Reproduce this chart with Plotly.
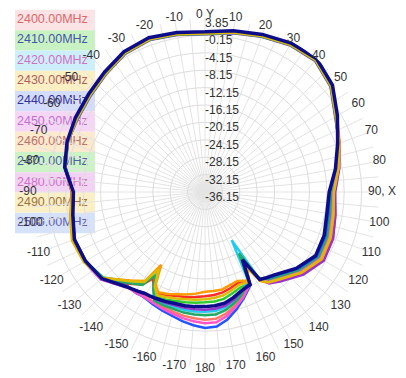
import plotly.graph_objects as go

THETA = [0, 10, 20, 30, 40, 50, 60, 70, 80, 90, 100, 110, 120, 130, 140, 145, 148, 151, 154,
         160, 165, 170, 175, 180, 185, 190, 195, 200, 205, 208, 211, 214, 220, 230, 240, 250,
         260, 270, 280, 290, 300, 310, 320, 330, 340, 350, 360]

FREQS = ["2400.00MHz", "2410.00MHz", "2420.00MHz", "2430.00MHz", "2440.00MHz", "2450.00MHz",
         "2460.00MHz", "2470.00MHz", "2480.00MHz", "2490.00MHz", "2500.00MHz"]

g2400 = [0.4, 1.2, 2.1, 3.1, 3.5, 1.8, -1.3, -3.4, -5.2, -6.8, -6.5, -5.7, -5.6, -7.8, -10.5, -11.4, -12.2, -16.5, -13.0,
         -13.9, -13.3, -12.7, -12.4, -12.2, -11.9, -11.6, -11.4, -10.9, -10.4, -11.0, -13.0, -10.5, -8.6, -5.5, -4.2, -3.9,
         -5.1, -5.8, -3.5, -2.6, -2.1, -1.5, -0.5, 0.8, 1.3, 0.8, 0.4]
g2410 = [0.3, 1.1, 2.0, 3.0, 3.4, 1.6, -1.4, -3.5, -5.3, -7.0, -6.9, -6.0, -5.8, -8.0, -10.6, -11.5, -12.6, -17.5, -12.8,
         -12.7, -12.0, -11.2, -10.9, -10.8, -10.6, -10.4, -10.2, -9.8, -9.5, -11.5, -14.5, -11.0, -9.3, -5.6, -4.3, -4.0,
         -5.0, -5.7, -3.4, -2.6, -2.2, -1.6, -0.6, 0.7, 1.2, 0.7, 0.3]
g2420 = [0.5, 1.3, 2.2, 3.2, 3.6, 1.9, -1.2, -3.4, -5.2, -6.9, -6.9, -6.2, -6.0, -8.0, -10.6, -11.4, -13.0, -23.5, -13.5,
         -11.4, -10.2, -9.2, -8.7, -8.6, -8.6, -8.6, -8.8, -8.8, -8.8, -11.8, -15.0, -11.2, -9.2, -5.5, -4.4, -4.1,
         -5.2, -5.9, -3.5, -2.6, -2.0, -1.4, -0.4, 0.9, 1.4, 0.9, 0.5]
g2430 = [0.4, 1.2, 2.1, 3.1, 3.5, 1.9, -1.1, -3.2, -4.9, -6.4, -5.7, -4.9, -4.8, -6.9, -9.6, -10.6, -12.0, -16.0, -13.5,
         -14.4, -14.0, -13.4, -13.3, -13.2, -12.7, -12.2, -11.8, -11.2, -10.7, -12.0, -16.6, -11.5, -9.6, -5.4, -4.0, -3.6,
         -4.7, -5.5, -3.5, -2.5, -2.1, -1.5, -0.5, 0.8, 1.3, 0.8, 0.4]
g2440 = [0.6, 1.4, 2.3, 3.3, 3.7, 2.0, -1.1, -3.5, -5.4, -7.2, -7.2, -6.6, -6.4, -8.4, -10.9, -11.7, -12.6, -19.0, -12.3,
         -10.1, -8.2, -6.4, -5.1, -4.9, -5.4, -6.0, -6.7, -7.2, -7.7, -8.0, -8.2, -8.0, -8.1, -5.2, -4.5, -4.3,
         -5.3, -5.8, -3.6, -2.5, -1.9, -1.3, -0.3, 1.0, 1.5, 1.0, 0.6]
g2450 = [0.1, 0.9, 1.8, 2.8, 3.2, 1.5, -1.6, -3.3, -4.8, -6.2, -5.7, -4.8, -4.6, -6.6, -9.3, -10.5, -12.8, -18.0, -12.9,
         -11.6, -10.5, -9.6, -9.2, -9.1, -9.1, -9.1, -9.2, -9.1, -9.0, -9.0, -9.1, -8.7, -7.6, -4.9, -4.1, -3.9,
         -4.9, -5.5, -3.4, -2.5, -2.4, -1.8, -0.8, 0.5, 1.0, 0.5, 0.1]
g2460 = [0.3, 1.1, 2.0, 3.0, 3.4, 1.7, -1.4, -3.3, -5.0, -6.6, -6.1, -5.4, -5.2, -7.2, -9.8, -10.7, -12.3, -17.0, -12.8,
         -10.7, -9.2, -7.8, -6.9, -6.8, -7.0, -7.3, -7.7, -8.0, -8.2, -8.4, -8.6, -8.3, -8.0, -5.1, -4.1, -3.8,
         -4.9, -5.6, -3.5, -2.6, -2.2, -1.6, -0.6, 0.7, 1.2, 0.7, 0.3]
g2470 = [0.2, 1.0, 1.9, 2.9, 3.3, 1.6, -1.5, -3.4, -5.2, -6.9, -6.8, -6.1, -5.9, -7.9, -10.4, -11.2, -12.9, -20.0, -13.0,
         -11.1, -9.8, -8.6, -7.9, -7.8, -7.9, -8.0, -8.3, -8.4, -8.5, -10.8, -13.8, -10.4, -8.8, -5.4, -4.3, -4.0,
         -5.1, -5.8, -3.6, -2.6, -2.3, -1.7, -0.7, 0.6, 1.1, 0.6, 0.2]
g2480 = [0.4, 1.2, 2.1, 3.1, 3.5, 1.8, -1.3, -3.3, -5.1, -6.6, -6.4, -5.7, -5.5, -7.5, -10.0, -10.9, -12.5, -17.8, -12.6,
         -10.4, -8.8, -7.2, -6.1, -6.0, -6.3, -6.7, -7.2, -7.6, -8.0, -8.2, -8.3, -8.1, -7.8, -5.0, -4.2, -4.0,
         -5.0, -5.7, -3.5, -2.5, -2.1, -1.5, -0.5, 0.8, 1.3, 0.8, 0.4]
g2490 = [0.3, 1.1, 2.0, 3.0, 3.4, 1.7, -1.4, -3.3, -5.0, -6.5, -6.2, -5.5, -5.3, -7.3, -9.9, -10.8, -12.1, -16.3, -13.2,
         -13.4, -12.7, -12.0, -11.7, -11.5, -11.3, -11.1, -10.8, -10.4, -10.0, -11.6, -15.5, -11.2, -9.4, -5.4, -4.0, -3.7,
         -4.8, -5.6, -3.5, -2.5, -2.2, -1.6, -0.6, 0.7, 1.2, 0.7, 0.3]
g2500 = [0.7, 1.5, 2.4, 3.4, 3.8, 2.1, -1.0, -3.7, -5.7, -7.6, -7.7, -7.0, -6.8, -8.8, -11.3, -12.0, -12.4, -18.4, -12.5,
         -11.9, -11.0, -10.2, -9.9, -9.8, -9.7, -9.6, -9.6, -9.4, -9.2, -9.1, -9.0, -8.6, -7.8, -5.2, -4.4, -4.2,
         -5.3, -5.9, -3.4, -2.4, -1.8, -1.2, -0.2, 1.1, 1.6, 1.1, 0.7]

SERIES = [g2400, g2410, g2420, g2430, g2440, g2450, g2460, g2470, g2480, g2490, g2500]

R_TICKS = [3.85, -0.15, -4.15, -8.15, -12.15, -16.15, -20.15, -24.15, -28.15, -32.15, -36.15]
R_LABELS = ["%.2f" % v for v in R_TICKS]
A_LABEL_THETA = list(range(0, 360, 10))
A_LABELS = []
for a in A_LABEL_THETA:
    if a == 0:
        A_LABELS.append("0 Y")
    elif a == 90:
        A_LABELS.append("90, X")
    elif a <= 180:
        A_LABELS.append(str(a))
    else:
        A_LABELS.append(str(a - 360))

LINE_COLORS = ["#ff2a2a", "#2ecc2e", "#22ccee", "#ff9900", "#2255ff", "#9933cc",
               "#ff7766", "#22aa66", "#ff55cc", "#ddbb00", "#0d0d8c"]
BAND_COLORS = ["#fbe3e6", "#c9f2c2", "#cdeffc", "#fdefc4", "#d4dcfb", "#f6d6f6",
               "#fde9cc", "#ccf3c6", "#f3d3f3", "#fbf0c5", "#d6e2fb"]
TEXT_COLORS = ["#e06666", "#4455aa", "#d070c8", "#b06060", "#333399", "#c070d0",
               "#c07070", "#5060a0", "#d070c8", "#a07040", "#6060b0"]

# the page body has an 8px margin, so the figure is 8px smaller and coordinates shift by 8
OFF = 8
W, H = 406 - OFF, 378 - OFF
FONT = "Liberation Sans, Arial"
fig = go.Figure()

# legend (hidden cartesian layer, underneath the polar curves)
row_h = 20.3
leg_y = [20 + row_h * i - OFF for i in range(len(FREQS))]
for i in range(len(FREQS)):
    fig.add_shape(type="rect", xref="paper", yref="paper", layer="below",
                  x0=(15 - OFF) / W, x1=(95 - OFF) / W,
                  y0=1 - (leg_y[i] + row_h / 2) / H, y1=1 - (leg_y[i] - row_h / 2) / H,
                  fillcolor=BAND_COLORS[i], line=dict(width=0))
fig.add_trace(go.Scatter(x=[17 - OFF] * len(FREQS), y=leg_y, mode="text", text=FREQS,
                         textposition="middle right", hoverinfo="skip", showlegend=False,
                         textfont=dict(size=12.5, color=TEXT_COLORS, family=FONT)))

# radial tick labels below-right of each ring on the 0 line
fig.add_trace(go.Scatterpolar(r=R_TICKS, theta=[0] * len(R_TICKS), mode="text", text=R_LABELS,
                              textposition="bottom right", cliponaxis=False, hoverinfo="skip",
                              showlegend=False, textfont=dict(size=12, color="#333333", family=FONT)))

for i, (name, vals) in enumerate(zip(FREQS, SERIES)):
    fig.add_trace(go.Scatterpolar(
        r=vals, theta=THETA, mode="lines", name=name,
        line=dict(color=LINE_COLORS[i], width=3.5 if i == len(FREQS) - 1 else 2.5),
        showlegend=False))

# angular labels, on a larger hidden polar frame sharing the same centre
cx, cy, R = 205 - OFF, 192 - OFF, 174
R2 = 184
LABEL_DIST = 177 / R2
fig.add_trace(go.Scatterpolar(r=[LABEL_DIST] * len(A_LABEL_THETA), theta=A_LABEL_THETA, mode="text",
                              text=A_LABELS, textposition="middle center", cliponaxis=False,
                              hoverinfo="skip", showlegend=False, subplot="polar2",
                              textfont=dict(size=12, color="#333333", family=FONT)))

fig.update_layout(
    width=W, height=H, margin=dict(l=0, r=0, t=0, b=0),
    paper_bgcolor="white", plot_bgcolor="rgba(0,0,0,0)",
    font=dict(family=FONT, size=11, color="#333333"),
    xaxis=dict(domain=[0, 1], range=[0, W], visible=False, fixedrange=True),
    yaxis=dict(domain=[0, 1], range=[H, 0], visible=False, fixedrange=True),
    polar=dict(
        domain=dict(x=[(cx - R) / W, (cx + R) / W], y=[1 - (cy + R) / H, 1 - (cy - R) / H]),
        bgcolor="rgba(0,0,0,0)",
        angularaxis=dict(rotation=90, direction="clockwise", tickmode="linear", tick0=0, dtick=5,
                         showticklabels=False, showline=False,
                         gridcolor="#e4e4e4", gridwidth=1, ticks=""),
        radialaxis=dict(range=[-36.15, 3.85], tickmode="array", tickvals=R_TICKS,
                        showticklabels=False, angle=90,
                        showline=False, gridcolor="#dddddd", ticks=""),
    ),
    polar2=dict(
        domain=dict(x=[(cx - R2) / W, (cx + R2) / W], y=[max(0, 1 - (cy + R2) / H), min(1, 1 - (cy - R2) / H)]),
        bgcolor="rgba(0,0,0,0)",
        angularaxis=dict(rotation=90, direction="clockwise", visible=False, showgrid=False),
        radialaxis=dict(range=[0, 1], visible=False, showgrid=False),
    ),
)
fig.write_html("out.html")
